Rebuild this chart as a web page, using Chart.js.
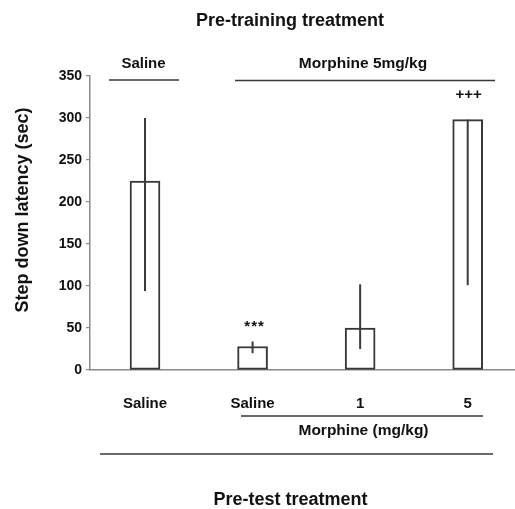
<!DOCTYPE html>
<html>
<head>
<meta charset="utf-8">
<script src="https://cdn.jsdelivr.net/npm/chart.js@4/dist/chart.umd.min.js"></script>
<style>
  html, body { margin: 0; padding: 0; background: #ffffff; }
  canvas { display: block; }
</style>
</head>
<body>
<canvas id="chart" width="515" height="509"></canvas>
<script>
// Step-down latency by pre-test treatment
const categories = ['Saline', 'Saline', '1', '5'];
const latencyMeans = [225, 28, 50, 298];
const errorLow = [94, 20, 25, 101];
const errorHigh = [300, 34, 102, 298];
const significance = ['', '***', '', '+++'];
const yTicks = [0, 50, 100, 150, 200, 250, 300, 350];

const FONT = '"Liberation Sans", Arial, Helvetica, sans-serif';
const INK = '#111111';
const LINE = '#383838';
const AXIS = '#8a8a8a';

// Group brackets, headings and axis titles around the plot
const decorations = {
  texts: [
    { text: 'Pre-training treatment', x: 290, y: 26, size: 18 },
    { text: 'Saline', x: 143.5, y: 68, size: 15 },
    { text: 'Morphine 5mg/kg', x: 363, y: 68, size: 15.5 },
    { text: 'Morphine (mg/kg)', x: 363.5, y: 435, size: 15.5 },
    { text: 'Pre-test treatment', x: 290.5, y: 505, size: 18 }
  ],
  lines: [
    { x1: 109, x2: 179, y: 80 },
    { x1: 235, x2: 495, y: 80.5 },
    { x1: 241, x2: 483, y: 416 },
    { x1: 100, x2: 493, y: 454 }
  ],
  yTitle: { text: 'Step down latency (sec)', x: 23, y: 210, size: 18 },
  markLift: [0, 10, 0, 21]
};

const errorBarPlugin = {
  id: 'errorBars',
  afterDatasetsDraw(chart) {
    const { ctx, scales: { x, y } } = chart;
    ctx.save();
    ctx.strokeStyle = '#3a3a3a';
    ctx.lineWidth = 2;
    latencyMeans.forEach((_, i) => {
      const px = x.getPixelForValue(i);
      ctx.beginPath();
      ctx.moveTo(px, y.getPixelForValue(errorLow[i]));
      ctx.lineTo(px, y.getPixelForValue(errorHigh[i]));
      ctx.stroke();
    });
    // significance marks above the bars
    ctx.fillStyle = INK;
    ctx.textAlign = 'center';
    ctx.textBaseline = 'alphabetic';
    significance.forEach((mark, i) => {
      if (!mark) return;
      const px = x.getPixelForValue(i);
      const top = y.getPixelForValue(Math.max(errorHigh[i], latencyMeans[i]));
      const isStar = mark.startsWith('*');
      ctx.font = 'bold 15px ' + FONT;
      ctx.letterSpacing = isStar ? '1px' : '0px';
      ctx.fillText(mark, px + (isStar ? 2 : 1), top - decorations.markLift[i]);
    });
    ctx.restore();
  }
};

const decorationPlugin = {
  id: 'decorations',
  afterDraw(chart) {
    const { ctx } = chart;
    ctx.save();
    ctx.strokeStyle = LINE;
    ctx.lineWidth = 1.6;
    decorations.lines.forEach(l => {
      ctx.beginPath();
      ctx.moveTo(l.x1, l.y);
      ctx.lineTo(l.x2, l.y);
      ctx.stroke();
    });
    ctx.fillStyle = INK;
    ctx.textAlign = 'center';
    ctx.textBaseline = 'alphabetic';
    decorations.texts.forEach(t => {
      ctx.font = 'bold ' + t.size + 'px ' + FONT;
      ctx.fillText(t.text, t.x, t.y);
    });
    const yt = decorations.yTitle;
    ctx.translate(yt.x, yt.y);
    ctx.rotate(-Math.PI / 2);
    ctx.font = 'bold ' + yt.size + 'px ' + FONT;
    ctx.textBaseline = 'middle';
    ctx.fillText(yt.text, 0, 0);
    ctx.restore();
  }
};

new Chart(document.getElementById('chart'), {
  type: 'bar',
  data: {
    datasets: [{
      data: latencyMeans.map((v, i) => ({ x: i, y: v })),
      backgroundColor: '#ffffff',
      borderColor: LINE,
      borderWidth: 2,
      borderSkipped: false,
      barThickness: 30
    }]
  },
  options: {
    responsive: false,
    animation: false,
    devicePixelRatio: 1,
    layout: { padding: { top: 76, right: 0, bottom: 0, left: 0 } },
    plugins: {
      legend: { display: false },
      tooltip: { enabled: false }
    },
    scales: {
      x: {
        type: 'linear',
        offset: false,
        min: -0.5113,
        max: 3.4397,
        afterFit(scale) { scale.height = 139; },
        afterBuildTicks(scale) { scale.ticks = categories.map((_, i) => ({ value: i })); },
        grid: { display: false, offset: false },
        border: { display: true, color: AXIS, width: 1.5 },
        ticks: {
          color: INK,
          font: { family: FONT, size: 15, weight: 'bold' },
          padding: 17,
          maxRotation: 0,
          autoSkip: false,
          callback: (v) => categories[v]
        }
      },
      y: {
        min: 0,
        max: 350,
        afterFit(scale) { scale.width = 90; },
        afterBuildTicks(scale) { scale.ticks = yTicks.map(v => ({ value: v })); },
        grid: { drawOnChartArea: false, drawTicks: true, tickLength: 4, color: AXIS, lineWidth: 1.2 },
        border: { display: true, color: AXIS, width: 1.5 },
        ticks: {
          color: INK,
          font: { family: FONT, size: 14, weight: 'bold' },
          padding: 4
        }
      }
    }
  },
  plugins: [errorBarPlugin, decorationPlugin]
});
</script>
</body>
</html>
